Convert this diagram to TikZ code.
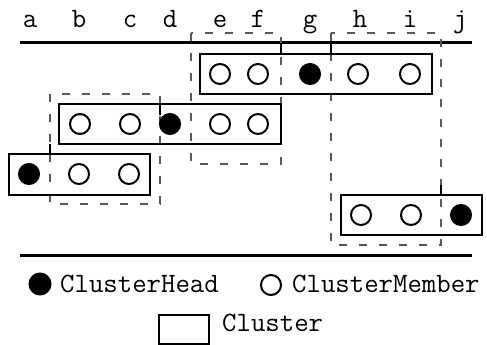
\documentclass[tikz,border=0pt]{standalone}
\usetikzlibrary{positioning}
\tikzset{
  member/.style={circle, draw=black, line width=2pt, minimum size=20pt, inner sep=0pt},
  head/.style={member, fill=black},
  cluster/.style={draw=black, line width=1.2pt},
  group/.style={draw=black!65, line width=1.2pt, dash pattern=on 8pt off 12pt},
  lab/.style={font=\ttfamily\fontsize{28}{33}\selectfont, inner sep=0pt}
}
\begin{document}
\begin{tikzpicture}[x=1pt,y=-1pt]
        \useasboundingbox (0,0) rectangle (487,345);
        %列標題
        \foreach \n/\x in {a/30,b/79,c/130,d/170,e/220,f/258,g/310,h/360,i/410,j/460}
          \node[lab, anchor=base] (l\n) at (\x,28) {\n};
        \draw[line width=3pt] (20,43) -- (472,43);
        \draw[line width=3pt] (20,255) -- (472,255);
        %虛線分組
        \draw[group] (191,33) rectangle (281,164);
        \draw[group] (50,94) rectangle (160,204);
        \draw[group] (331,33) rectangle (441,245);
        \draw[line width=1.2pt] (281,43) -- (281,54);
        \draw[line width=1.2pt] (331,43) -- (331,54);
        \draw[line width=1.2pt] (160,104) -- (160,115);
        \draw[line width=1.2pt] (50,144) -- (50,154);
        \draw[line width=1.2pt] (441,185) -- (441,195);
        %各群
        \draw[cluster] (200,54) rectangle (432,94);
        \draw[cluster] (59,104) rectangle (281,144);
        \draw[cluster] (9,154) rectangle (150,195);
        \draw[cluster] (341,195) rectangle (482,235);
        \node[member] (r1e) at (220,74) {};
        \node[member] (r1f) at (258,74) {};
        \node[head]   (r1g) at (310,74) {};
        \node[member] (r1h) at (358,74) {};
        \node[member] (r1i) at (410,74) {};
        \node[member] (r2b) at (80,124) {};
        \node[member] (r2c) at (130,124) {};
        \node[head]   (r2d) at (170,124) {};
        \node[member] (r2e) at (220,124) {};
        \node[member] (r2f) at (258,124) {};
        \node[head]   (r3a) at (29,174) {};
        \node[member] (r3b) at (79,174) {};
        \node[member] (r3c) at (129,174) {};
        \node[member] (r4h) at (361,215) {};
        \node[member] (r4i) at (411,215) {};
        \node[head]   (r4j) at (461,215) {};
        %圖例
        \node[head, minimum size=22pt, line width=1pt] (keyhead) at (40,284) {};
        \node[lab, anchor=west] (tkhead) at (60,284) {ClusterHead};
        \node[member] (keymember) at (271,285) {};
        \node[lab, anchor=west] (tkmember) at (292,284) {ClusterMember};
        \draw[cluster] (159,315) rectangle (209,344);
        \node[lab, anchor=west] (tkcluster) at (222,323) {Cluster};
        \end{tikzpicture}
\end{document}
